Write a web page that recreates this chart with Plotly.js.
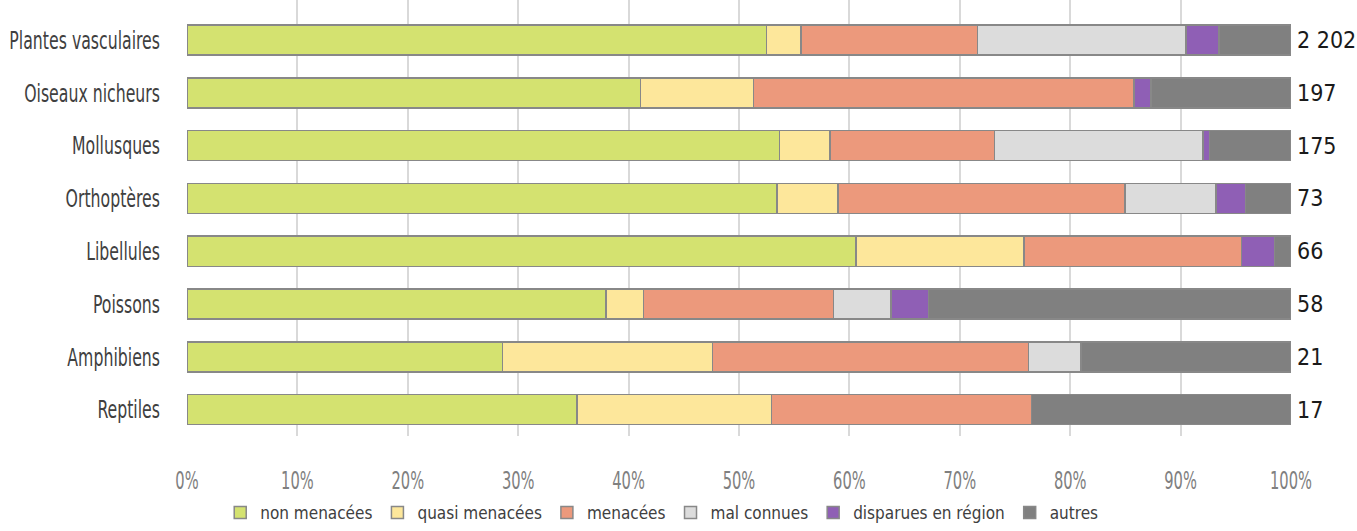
<!DOCTYPE html>
<html>
<head>
<meta charset="utf-8">
<script src="https://cdn.plot.ly/plotly-3.0.1.min.js"></script>
<style>html,body{margin:0;padding:0;background:#fff;}#chart{width:1357px;height:531px;}</style>
</head>
<body>
<div id="chart"></div>
<script>
var categories = ["Plantes vasculaires","Oiseaux nicheurs","Mollusques","Orthoptères","Libellules","Poissons","Amphibiens","Reptiles"];
var totals = ["2 202","197","175","73","66","58","21","17"];
var seriesNames = ["non menacées","quasi menacées","menacées","mal connues","disparues en région","autres"];
// percentages
var nonMenacees  = [52.5, 41.1, 53.7, 53.4, 60.6, 37.9, 28.6, 35.3];
var quasiMenacees= [3.1, 10.2, 4.6, 5.5, 15.2, 3.4, 19.0, 17.6];
var menacees     = [16.0, 34.5, 14.9, 26.0, 19.7, 17.2, 28.6, 23.5];
var malConnues   = [18.9, 0, 18.9, 8.2, 0, 5.2, 4.8, 0];
var disparues    = [3.0, 1.5, 0.6, 2.7, 3.0, 3.4, 0, 0];
var autres       = [6.5, 12.7, 7.4, 4.1, 1.5, 32.8, 19.0, 23.5];
var tickVals = [0,10,20,30,40,50,60,70,80,90,100];
var tickText = ["0%","10%","20%","30%","40%","50%","60%","70%","80%","90%","100%"];

var colors = ["#d4e270","#fde79b","#ec997c","#dcdcdc","#8f5fb5","#808080"];
var allSeries = [nonMenacees, quasiMenacees, menacees, malConnues, disparues, autres];
var FONT = "'DejaVu Sans Condensed', 'DejaVu Sans', sans-serif";

var traces = allSeries.map(function(vals, i){
  return {
    type: 'bar', orientation: 'h',
    x: vals, y: categories,
    name: seriesNames[i],
    marker: {color: colors[i], line: {color: '#888888', width: 1.5}},
    hoverinfo: 'name+x'
  };
});

var annotations = categories.map(function(c, i){
  return {x: 1, xref: 'paper', xanchor: 'left', xshift: 4, y: c, yref: 'y',
          text: totals[i], showarrow: false,
          font: {family: FONT, size: 23, color: '#1a1a1a'}};
});

var layout = {
  width: 1357, height: 531,
  margin: {l: 187, r: 66, t: 0, b: 95},
  paper_bgcolor: '#ffffff', plot_bgcolor: '#ffffff',
  barmode: 'stack', barnorm: 'percent', bargap: 0.43,
  font: {family: FONT},
  xaxis: {range: [0, 100], tickvals: tickVals, ticktext: tickText, automargin: false,
          showgrid: true, gridcolor: '#d9d9d9', gridwidth: 1.5, zeroline: false,
          showline: false, ticks: '', ticklabelstandoff: 28,
          tickfont: {family: FONT, size: 24, color: '#808080'}, fixedrange: true},
  yaxis: {categoryorder: 'array', categoryarray: categories, automargin: false,
          range: [7.5, -0.76], showgrid: false, zeroline: false, showline: false,
          ticks: '', ticklabelstandoff: 26,
          tickfont: {family: FONT, size: 25, color: '#404040'}, fixedrange: true},
  showlegend: true,
  legend: {orientation: 'h', x: 0.43, xanchor: 'center', yref: 'container', y: -0.01, yanchor: 'bottom',
           font: {family: FONT, size: 17, color: '#404040'}, traceorder: 'normal',
           itemclick: false, itemdoubleclick: false},
  annotations: annotations
};

// narrow the axis labels horizontally to mimic the condensed typeface of the reference
function squeeze(selector, factor){
  document.querySelectorAll(selector).forEach(function(t){
    if (t.dataset.origTransform === undefined) t.dataset.origTransform = t.getAttribute('transform') || '';
    var x = parseFloat(t.getAttribute('x')) || 0;
    t.setAttribute('transform', t.dataset.origTransform + ' translate(' + x + ',0) scale(' + factor + ',1) translate(' + (-x) + ',0)');
  });
}
function applySqueeze(){
  squeeze('#chart .ytick text', 0.70);
  squeeze('#chart .xtick text', 0.68);
}

Plotly.newPlot('chart', traces, layout, {displayModeBar: false}).then(function(gd){
  applySqueeze();
  gd.on('plotly_afterplot', applySqueeze);
});
</script>
</body>
</html>
